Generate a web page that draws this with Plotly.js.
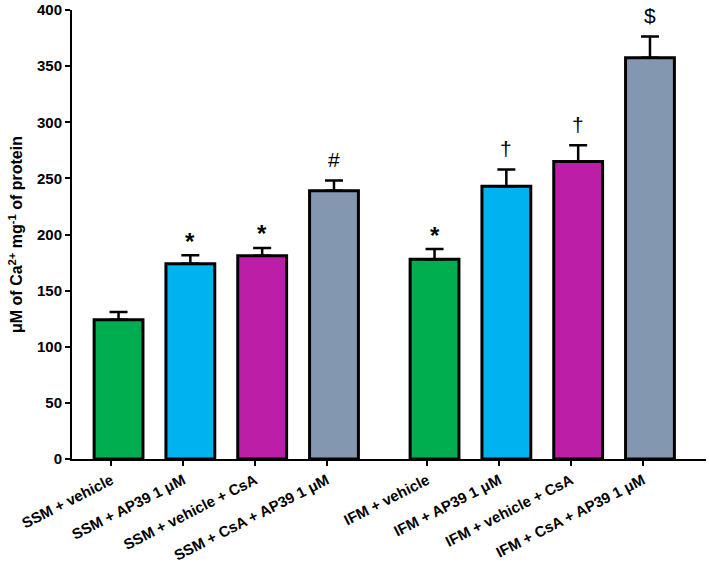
<!DOCTYPE html>
<html>
<head>
<meta charset="utf-8">
<script src="https://cdn.plot.ly/plotly-3.0.1.min.js"></script>
<style>html,body{margin:0;padding:0;background:#fff;}#chart{width:709px;height:565px;}</style>
</head>
<body>
<div id="chart"></div>
<script>
// Data
const categories = [
  "SSM + vehicle", "SSM + AP39 1 μM", "SSM + vehicle + CsA", "SSM + CsA + AP39 1 μM",
  "IFM + vehicle", "IFM + AP39 1 μM", "IFM + vehicle + CsA", "IFM + CsA + AP39 1 μM"
];
const groupIndex = [0, 0, 0, 0, 1, 1, 1, 1];
const values = [124, 174, 181, 239, 178, 243, 265, 357.5];
const errors = [7, 7.5, 7, 9, 9, 15, 14.5, 19];
const markers = ["", "*", "*", "#", "*", "†", "†", "$"];
const treatmentColors = ["#00ae4f", "#00b2ef", "#bc1ea8", "#8497b0"];

// Layout helpers
const groupGap = 1.4;
const xs = categories.map((c, i) => (i % 4) + groupIndex[i] * (4 + groupGap - 1));
const tickPos = xs.map(x => x - 0.1);
const colors = categories.map((c, i) => treatmentColors[i % 4]);

const trace = {
  type: 'bar',
  x: xs,
  y: values,
  width: 0.68,
  marker: {color: colors, line: {color: '#000', width: 3}},
  error_y: {type: 'data', symmetric: false, array: errors, arrayminus: values.map(() => 0),
            color: '#000', thickness: 2.5, width: 9},
  hoverinfo: 'none'
};

const annotations = [];
markers.forEach((m, i) => {
  if (!m) return;
  const isStar = m === '*';
  annotations.push({
    x: xs[i], y: values[i] + errors[i], xref: 'x', yref: 'y',
    text: m, showarrow: false, yanchor: 'middle',
    yshift: isStar ? 14 : 21,
    font: {family: 'Liberation Sans, Arial, sans-serif', size: isStar ? 24 : 21, color: '#000', weight: isStar ? 700 : 400}
  });
});

const axisFont = {family: 'Liberation Sans, Arial, sans-serif', size: 15, color: '#000', weight: 700};
const xTickFont = {family: 'Liberation Sans, Arial, sans-serif', size: 15, color: '#000', weight: 700};

const layout = {
  width: 709, height: 565,
  margin: {l: 72, r: 3, t: 10, b: 106},
  paper_bgcolor: '#fff', plot_bgcolor: '#fff',
  showlegend: false,
  xaxis: {
    type: 'linear', range: [-0.648, 8.18],
    tickmode: 'array', tickvals: tickPos, ticktext: categories,
    tickangle: -27, tickfont: xTickFont,
    ticks: 'outside', ticklen: 5, tickwidth: 2, tickcolor: '#000',
    showline: true, linecolor: '#000', linewidth: 2,
    showgrid: false, zeroline: false, automargin: false
  },
  yaxis: {
    range: [0, 400], tickmode: 'linear', tick0: 0, dtick: 50,
    tickfont: axisFont,
    ticks: 'outside', ticklen: 5, tickwidth: 2, tickcolor: '#000',
    showline: true, linecolor: '#000', linewidth: 2,
    showgrid: false, zeroline: false, automargin: false,
    title: {text: 'μM of Ca<sup>2+</sup> mg<sup>-1</sup> of protein', standoff: 10,
            font: {family: 'Liberation Sans, Arial, sans-serif', size: 16, color: '#000', weight: 700}}
  },
  annotations: annotations
};

Plotly.newPlot('chart', [trace], layout, {displayModeBar: false, staticPlot: true});
</script>
</body>
</html>
